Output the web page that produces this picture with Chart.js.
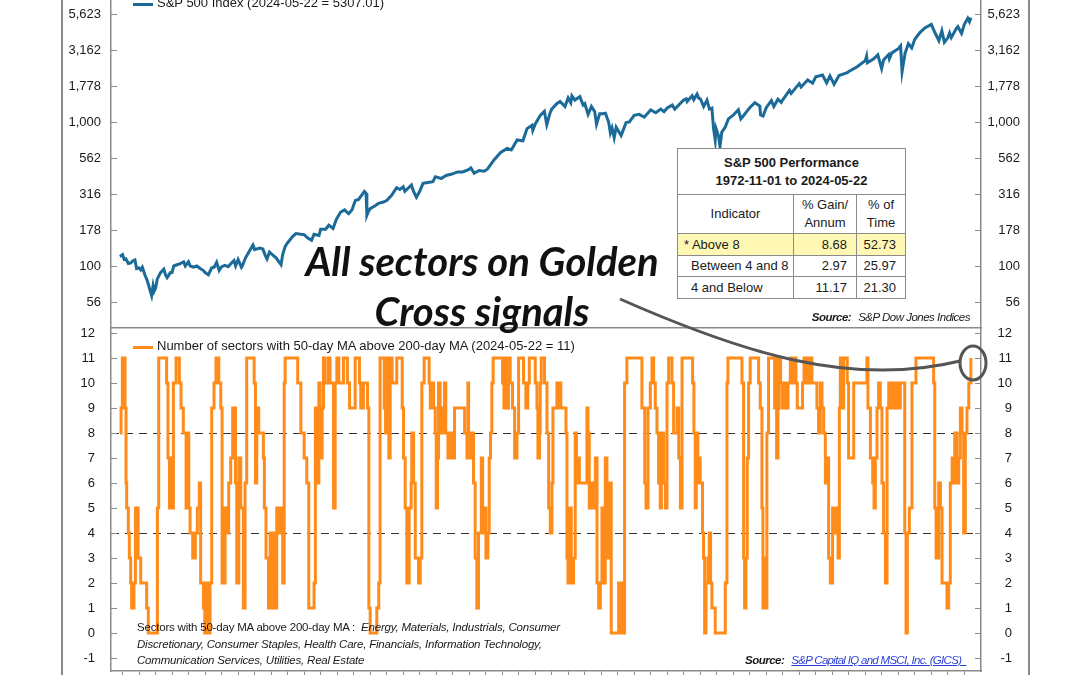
<!DOCTYPE html>
<html>
<head>
<meta charset="utf-8">
<script src="https://cdn.jsdelivr.net/npm/chart.js@4.4.1/dist/chart.umd.min.js"></script>
<style>
  body { margin: 0; background: #fff; }
  #wrap { position: relative; width: 1080px; height: 675px; overflow: hidden;
          font-family: "Liberation Sans", Arial, sans-serif; color: #1a1a1a; }
  canvas { position: absolute; left: 0; }
  #top { top: 0; }
  #bot { top: 328px; }
  .frame { position: absolute; top: 0; width: 1.5px; height: 675px; background: #8a8a8a; }
  .legend { position: absolute; font-size: 13px; white-space: nowrap; }
  .legend i { position: absolute; left: -24px; width: 20px; height: 3px; }
  #perf { position: absolute; left: 677px; top: 148px; width: 228px; border-collapse: collapse;
          table-layout: fixed; font-size: 13px; background: #fff; }
  #perf td { border: 1px solid #8a8a8a; padding: 0 6px; line-height: 18px; white-space: nowrap; overflow: hidden; }
  #perf .ttl { text-align: center; font-weight: bold; height: 45px; }
  #perf .hd td { text-align: center; height: 38px; }
  #perf .num { text-align: right; padding-right: 9px; }
  #perf .hi td { background: #fff8b4; }
  .src { position: absolute; font-size: 11.5px; font-style: italic; white-space: nowrap; letter-spacing: -0.5px; }
  .src b { margin-right: 7px; }
  #note { position: absolute; left: 137px; top: 619px; width: 440px; font-size: 11.5px;
          line-height: 16.5px; letter-spacing: -0.2px; }
  #callout { position: absolute; left: 232px; top: 236px; width: 500px; text-align: center;
             font-family: Lato, "Open Sans", sans-serif; font-weight: 700; font-style: italic;
             font-size: 40px; line-height: 50px; color: #111; }
  svg { position: absolute; left: 0; top: 0; }
</style>
</head>
<body>
<div id="wrap">
  <canvas id="top" width="1080" height="329"></canvas>
  <canvas id="bot" width="1080" height="347"></canvas>
  <div class="frame" style="left:61px"></div>
  <div class="frame" style="left:1028px"></div>

  <div class="legend" style="left:157px; top:-5px"><i style="top:8px; background:#1b6a98"></i>S&amp;P 500 Index (2024-05-22 = 5307.01)</div>
  <div class="legend" style="left:157px; top:338px"><i style="top:8px; background:#ff8c1a"></i>Number of sectors with 50-day MA above 200-day MA (2024-05-22 = 11)</div>

  <table id="perf">
    <colgroup><col style="width:116px"><col style="width:63px"><col style="width:49px"></colgroup>
    <tr><td class="ttl" colspan="3">S&amp;P 500 Performance<br>1972-11-01 to 2024-05-22</td></tr>
    <tr class="hd"><td>Indicator</td><td>% Gain/<br>Annum</td><td>% of<br>Time</td></tr>
    <tr class="hi" style="height:22px"><td style="padding-left:6px">* Above 8</td><td class="num">8.68</td><td class="num">52.73</td></tr>
    <tr style="height:21px"><td style="padding-left:13px">Between 4 and 8</td><td class="num">2.97</td><td class="num">25.97</td></tr>
    <tr style="height:22px"><td style="padding-left:13px">4 and Below</td><td class="num">11.17</td><td class="num">21.30</td></tr>
  </table>
  <div class="src" style="right:110px; top:311px"><b>Source:</b>S&amp;P Dow Jones Indices</div>

  <div id="callout">All sectors on Golden<br>Cross signals</div>

  <svg width="1080" height="675">
    <path d="M620,299 C740,352 850,388 960,361" fill="none" stroke="#555" stroke-width="3"/>
    <ellipse cx="973" cy="363" rx="13" ry="17" fill="none" stroke="#555" stroke-width="3"/>
  </svg>

  <div id="note">Sectors with 50-day MA above 200-day MA :&nbsp; <i>Energy, Materials, Industrials, Consumer Discretionary, Consumer Staples, Health Care, Financials, Information Technology, Communication Services, Utilities, Real Estate</i></div>
  <div class="src" style="left:745px; top:654px"><b>Source:</b><span style="color:#2b3fd6; text-decoration:underline; letter-spacing:-0.7px">S&amp;P Capital IQ and MSCI, Inc. (GICS)&nbsp;&nbsp;</span></div>
</div>

<script>
// ── Data ──────────────────────────────────────────────────────────────────

// S&P 500 index level, by decimal year
const spxYears = [
  1972.83, 1972.92, 1973.0, 1973.1, 1973.2, 1973.35, 1973.5, 1973.6, 1973.75, 1973.85,
  1974.0, 1974.1, 1974.2, 1974.35, 1974.5, 1974.6, 1974.76, 1974.85, 1974.92, 1975.0,
  1975.1, 1975.3, 1975.5, 1975.6, 1975.7, 1975.9, 1976.0, 1976.1, 1976.3, 1976.5,
  1976.7, 1976.8, 1976.99, 1977.1, 1977.3, 1977.5, 1977.7, 1977.9, 1978.0, 1978.2,
  1978.4, 1978.55, 1978.7, 1978.85, 1979.0, 1979.2, 1979.4, 1979.6, 1979.75, 1979.85,
  1980.0, 1980.2, 1980.25, 1980.45, 1980.65, 1980.9, 1981.0, 1981.3, 1981.5, 1981.65,
  1981.75, 1981.9, 1982.0, 1982.3, 1982.6, 1982.7, 1982.85, 1983.0, 1983.3, 1983.5,
  1983.8, 1984.0, 1984.2, 1984.45, 1984.6, 1984.9, 1985.0, 1985.3, 1985.5, 1985.75,
  1985.95, 1986.2, 1986.45, 1986.6, 1986.7, 1986.9, 1987.1, 1987.3, 1987.65, 1987.75,
  1987.8, 1987.9, 1988.0, 1988.3, 1988.5, 1988.8, 1989.0, 1989.3, 1989.6, 1989.8,
  1990.0, 1990.1, 1990.5, 1990.6, 1990.8, 1991.0, 1991.2, 1991.5, 1991.8, 1991.95,
  1992.3, 1992.6, 1992.95, 1993.3, 1993.6, 1993.95, 1994.1, 1994.3, 1994.6, 1994.9,
  1995.1, 1995.5, 1995.9, 1996.3, 1996.55, 1996.9, 1997.25, 1997.5, 1997.8, 1997.85,
  1998.0, 1998.3, 1998.55, 1998.7, 1998.9, 1999.0, 1999.3, 1999.5, 1999.8, 1999.99,
  2000.15, 2000.22, 2000.4, 2000.7, 2000.9, 2001.0, 2001.2, 2001.4, 2001.6, 2001.71,
  2001.9, 2002.1, 2002.25, 2002.45, 2002.55, 2002.65, 2002.78, 2002.9, 2003.0, 2003.2,
  2003.5, 2003.7, 2003.99, 2004.3, 2004.6, 2004.99, 2005.3, 2005.6, 2005.8, 2005.99,
  2006.3, 2006.45, 2006.99, 2007.15, 2007.2, 2007.5, 2007.6, 2007.8, 2007.9, 2008.0,
  2008.2, 2008.4, 2008.55, 2008.7, 2008.8, 2008.9, 2008.95, 2009.1, 2009.19, 2009.3,
  2009.5, 2009.7, 2009.99, 2010.3, 2010.45, 2010.6, 2010.99, 2011.3, 2011.6, 2011.65,
  2011.8, 2011.99, 2012.3, 2012.45, 2012.7, 2012.9, 2012.99, 2013.4, 2013.5, 2013.99,
  2014.1, 2014.5, 2014.8, 2014.99, 2015.4, 2015.65, 2015.85, 2016.1, 2016.4, 2016.9,
  2016.99, 2017.5, 2017.99, 2018.07, 2018.12, 2018.5, 2018.75, 2018.98, 2019.1, 2019.4,
  2019.45, 2019.6, 2019.99, 2020.13, 2020.22, 2020.4, 2020.6, 2020.8, 2020.99, 2021.3,
  2021.6, 2021.99, 2022.2, 2022.45, 2022.63, 2022.78, 2022.99, 2023.1, 2023.2, 2023.5,
  2023.6, 2023.82, 2023.99, 2024.2, 2024.3, 2024.39,
];
const spxValues = [
  116.7, 118, 119.9, 111, 112, 104, 105, 108, 110, 96,
  97, 94, 98, 87, 79, 72, 62.3, 73, 67, 70,
  81, 90, 95, 87, 83, 90, 90, 100, 102, 104,
  107, 100, 107, 100, 98, 100, 96, 93, 90, 87,
  97, 98, 106, 93, 99, 101, 99, 105, 109, 100,
  111, 98, 100, 114, 125, 140, 130, 133, 131, 118,
  112, 125, 122, 114, 102, 120, 137, 145, 160, 168,
  166, 165, 157, 151, 166, 163, 180, 180, 192, 182,
  211, 236, 245, 236, 231, 246, 285, 290, 330, 320,
  225, 240, 250, 262, 272, 278, 285, 310, 350, 340,
  355, 330, 365, 335, 300, 330, 375, 380, 385, 417,
  405, 425, 435, 450, 450, 466, 480, 440, 460, 455,
  470, 545, 615, 655, 640, 750, 740, 900, 950, 875,
  970, 1110, 1185, 960, 1160, 1230, 1340, 1390, 1280, 1470,
  1360, 1520, 1420, 1500, 1310, 1340, 1130, 1280, 1180, 965,
  1140, 1140, 1150, 990, 840, 910, 777, 920, 880, 805,
  990, 1000, 1112, 1130, 1080, 1212, 1160, 1230, 1180, 1250,
  1310, 1230, 1420, 1450, 1390, 1520, 1430, 1560, 1460, 1450,
  1280, 1420, 1230, 1250, 900, 750, 900, 800, 677, 850,
  920, 1050, 1115, 1215, 1050, 1100, 1258, 1360, 1290, 1120,
  1100, 1258, 1410, 1280, 1440, 1370, 1426, 1660, 1580, 1848,
  1750, 1960, 1860, 2058, 2120, 1870, 2090, 1830, 2100, 2200,
  2240, 2420, 2670, 2870, 2580, 2750, 2930, 2350, 2700, 2940,
  2750, 3020, 3230, 3380, 2240, 3000, 3500, 3270, 3756, 4180,
  4500, 4766, 4200, 3670, 4300, 3580, 3840, 4150, 3850, 4450,
  4590, 4120, 4770, 5250, 4970, 5307,
];

// Number of sectors with 50-day MA above 200-day MA (value holds from that year on)
const secYears = [
  1972.85, 1972.91, 1972.99, 1973.05, 1973.11, 1973.15, 1973.21, 1973.25, 1973.35, 1973.41,
  1973.49, 1973.55, 1973.69, 1973.78, 1973.94, 1974.10, 1974.46, 1974.56, 1975.11, 1975.19,
  1975.67, 1975.75, 1975.84, 1975.92, 1976.00, 1976.08, 1976.24, 1976.44, 1976.54, 1976.68,
  1976.85, 1976.93, 1977.01, 1977.09, 1977.25, 1977.41, 1977.53, 1977.65, 1977.73, 1977.90,
  1977.98, 1978.06, 1978.14, 1978.30, 1978.40, 1978.54, 1978.66, 1978.83, 1978.95, 1979.03,
  1979.21, 1979.35, 1979.43, 1979.55, 1979.67, 1979.84, 1979.92, 1980.04, 1980.16, 1980.32,
  1980.42, 1980.52, 1980.97, 1981.05, 1981.13, 1981.25, 1981.53, 1981.59, 1981.69, 1981.84,
  1981.94, 1982.04, 1982.14, 1982.24, 1982.34, 1982.48, 1982.60, 1982.70, 1982.79, 1982.85,
  1983.61, 1983.80, 1984.00, 1984.16, 1984.28, 1984.60, 1984.68, 1984.81, 1984.89, 1984.97,
  1985.09, 1985.17, 1985.27, 1985.47, 1985.57, 1985.78, 1985.88, 1985.98, 1986.10, 1986.38,
  1986.62, 1986.75, 1987.09, 1987.35, 1987.43, 1987.59, 1987.84, 1987.92, 1988.00, 1988.40,
  1988.52, 1988.60, 1988.85, 1988.93, 1989.01, 1989.13, 1989.21, 1989.33, 1989.61, 1989.94,
  1990.02, 1990.12, 1990.22, 1990.36, 1990.48, 1990.52, 1990.63, 1990.73, 1990.93, 1991.03,
  1991.13, 1991.27, 1991.57, 1991.64, 1991.78, 1991.84, 1991.94, 1992.00, 1992.08, 1992.14,
  1992.24, 1992.34, 1992.44, 1992.50, 1992.58, 1992.71, 1992.83, 1992.95, 1993.11, 1993.72,
  1993.86, 1993.92, 1993.96, 1994.06, 1994.16, 1994.26, 1994.36, 1994.46, 1994.56, 1994.73,
  1994.81, 1994.93, 1995.01, 1995.13, 1995.21, 1995.29, 1995.37, 1995.45, 1996.02, 1996.10,
  1996.18, 1996.28, 1996.38, 1996.48, 1996.62, 1996.75, 1996.89, 1996.99, 1997.29, 1997.43,
  1997.55, 1997.64, 1998.00, 1998.10, 1998.16, 1998.26, 1998.30, 1998.36, 1998.56, 1998.71,
  1998.81, 1998.91, 1999.01, 1999.07, 1999.31, 1999.41, 1999.49, 1999.55, 1999.86, 1999.92,
  1999.98, 2000.06, 2000.18, 2000.32, 2000.42, 2000.50, 2000.59, 2000.67, 2001.13, 2001.19,
  2001.27, 2001.39, 2001.53, 2001.64, 2001.74, 2001.84, 2001.94, 2002.04, 2002.14, 2002.24,
  2002.34, 2002.48, 2002.60, 2003.05, 2003.15, 2003.25, 2003.31, 2003.41, 2003.55, 2004.46,
  2004.63, 2004.71, 2004.83, 2004.97, 2005.07, 2005.17, 2005.27, 2005.37, 2005.47, 2005.57,
  2005.64, 2005.78, 2005.88, 2005.98, 2006.08, 2006.28, 2006.38, 2006.59, 2006.69, 2006.79,
  2006.89, 2007.53, 2007.61, 2007.69, 2007.75, 2007.85, 2007.93, 2007.99, 2008.13, 2008.19,
  2008.26, 2008.34, 2008.46, 2008.54, 2008.62, 2008.70, 2008.90, 2009.51, 2009.61, 2009.67,
  2010.52, 2010.62, 2010.68, 2010.76, 2010.84, 2010.92, 2011.02, 2011.53, 2011.63, 2011.73,
  2011.79, 2011.89, 2011.97, 2012.03, 2012.13, 2012.50, 2012.58, 2012.62, 2012.70, 2012.78,
  2012.86, 2012.98, 2013.10, 2013.18, 2013.31, 2013.45, 2013.55, 2013.67, 2013.79, 2013.87,
  2014.19, 2014.28, 2014.36, 2014.48, 2014.56, 2014.66, 2014.76, 2015.06, 2015.16, 2015.27,
  2015.37, 2015.47, 2015.57, 2015.67, 2015.77, 2015.87, 2016.01, 2016.13, 2016.22, 2016.34,
  2016.42, 2016.48, 2016.58, 2016.68, 2016.90, 2016.98, 2017.29, 2018.09, 2018.15, 2018.30,
  2018.44, 2018.52, 2018.60, 2018.70, 2018.80, 2018.90, 2019.00, 2019.10, 2019.21, 2019.31,
  2019.41, 2019.51, 2019.65, 2019.77, 2019.89, 2020.01, 2020.11, 2020.38, 2020.46, 2020.54,
  2020.66, 2020.82, 2021.06, 2022.13, 2022.20, 2022.28, 2022.44, 2022.54, 2022.64, 2022.94,
  2023.04, 2023.14, 2023.25, 2023.35, 2023.41, 2023.55, 2023.65, 2023.75, 2023.85, 2023.95,
  2024.05, 2024.15, 2024.26, 2024.39,
];
const secCounts = [
  8, 9, 11, 10, 11, 9, 6, 5, 4, 3,
  2, 1, 2, 5, 3, 2, 1, 0, 5, 11,
  10, 7, 5, 7, 5, 10, 11, 10, 9, 8,
  5, 8, 5, 4, 3, 4, 5, 6, 2, 1,
  0, 2, 0, 2, 9, 10, 11, 10, 9, 2,
  5, 4, 6, 7, 9, 6, 2, 7, 5, 1,
  6, 11, 10, 6, 9, 8, 7, 5, 3, 1,
  4, 1, 4, 1, 5, 4, 5, 2, 10, 11,
  10, 8, 7, 6, 1, 2, 9, 6, 10, 7,
  9, 11, 10, 11, 10, 5, 10, 11, 10, 11,
  10, 9, 11, 10, 9, 10, 9, 1, 0, 1,
  2, 11, 9, 8, 11, 7, 11, 10, 11, 9,
  7, 5, 2, 5, 6, 8, 6, 3, 2, 3,
  10, 11, 10, 9, 10, 9, 8, 5, 7, 10,
  8, 9, 8, 10, 8, 7, 8, 7, 9, 8,
  7, 10, 8, 7, 8, 6, 3, 1, 4, 7,
  4, 5, 3, 4, 7, 8, 10, 11, 10, 9,
  11, 9, 11, 10, 9, 7, 8, 11, 10, 9,
  10, 11, 10, 9, 7, 8, 10, 11, 10, 8,
  5, 4, 6, 9, 10, 9, 10, 9, 8, 3,
  2, 5, 2, 3, 8, 6, 7, 6, 9, 8,
  5, 6, 5, 7, 2, 1, 2, 5, 2, 7,
  3, 6, 0, 2, 0, 2, 0, 10, 11, 9,
  6, 5, 9, 10, 11, 10, 9, 8, 6, 5,
  8, 6, 5, 10, 11, 10, 8, 9, 7, 5,
  11, 10, 8, 5, 8, 6, 7, 6, 4, 3,
  0, 2, 3, 4, 2, 1, 0, 2, 10, 11,
  10, 3, 1, 3, 7, 10, 11, 10, 9, 5,
  1, 3, 1, 8, 11, 9, 11, 7, 9, 11,
  10, 9, 10, 9, 10, 11, 10, 11, 10, 9,
  10, 11, 10, 11, 10, 11, 10, 9, 8, 10,
  9, 8, 6, 7, 3, 2, 5, 4, 5, 3,
  9, 11, 9, 11, 10, 7, 10, 11, 9, 7,
  6, 5, 7, 9, 10, 9, 6, 4, 2, 9,
  10, 9, 10, 9, 10, 9, 10, 4, 0, 4,
  5, 10, 11, 10, 5, 3, 6, 5, 2, 1,
  2, 6, 7, 6, 8, 6, 7, 9, 8, 4,
  8, 9, 10, 11,
];

// Axis ticks
const spxTickValues = [56.23, 100, 177.83, 316.23, 562.34, 1000, 1778.28, 3162.28, 5623.41];
const spxTickLabels = ['56', '100', '178', '316', '562', '1,000', '1,778', '3,162', '5,623'];
const secTickValues = [-1, 0, 1, 2, 3, 4, 5, 6, 7, 8, 9, 10, 11, 12];
const secThresholds = [4, 8];

// ── Style ─────────────────────────────────────────────────────────────────

const BLUE = '#1b6a98';
const ORANGE = '#ff8c1a';
const AXIS = '#8a8a8a';
const TXT = '#1a1a1a';
const FONT = { family: '"Liberation Sans", Arial, sans-serif', size: 13 };

const X_MIN = 1972.3, X_MAX = 2025.0;
const yearTicks = Array.from({ length: 2024 - 1973 + 1 }, (_, i) => ({ value: 1973 + i }));

// small tick marks pointing into the plot, like the original
const innerTicks = {
  id: 'innerTicks',
  afterDraw(chart) {
    const { ctx, chartArea: a } = chart;
    ctx.save();
    ctx.strokeStyle = AXIS;
    ctx.lineWidth = 1;
    ['yL', 'yR'].forEach(id => {
      const s = chart.scales[id];
      s.ticks.forEach(t => {
        const y = Math.round(s.getPixelForValue(t.value)) + 0.5;
        const x0 = id === 'yL' ? a.left : a.right - 6;
        ctx.beginPath(); ctx.moveTo(x0, y); ctx.lineTo(x0 + 6, y); ctx.stroke();
      });
    });
    ctx.restore();
  },
};

const dashedLevels = {
  id: 'dashedLevels',
  beforeDatasetsDraw(chart) {
    const { ctx, chartArea: a } = chart;
    const s = chart.scales.yL;
    ctx.save();
    ctx.strokeStyle = '#333';
    ctx.lineWidth = 1;
    ctx.setLineDash([8, 6]);
    secThresholds.forEach(v => {
      const y = Math.round(s.getPixelForValue(v)) + 0.5;
      ctx.beginPath(); ctx.moveTo(a.left, y); ctx.lineTo(a.right, y); ctx.stroke();
    });
    ctx.restore();
  },
};

// fixed axis size, and no extra padding for the labels at the ends
const fixSize = (w, h) => s => {
  if (w != null) s.width = w;
  if (h != null) s.height = h;
  s.paddingTop = s.paddingBottom = s.paddingLeft = s.paddingRight = 0;
};

function yAxis(pos, extra) {
  return {
    position: pos,
    grid: { display: false, drawTicks: false },
    border: { color: AXIS, width: 1.5 },
    ...extra,
  };
}

// ── Top: S&P 500 (log) ────────────────────────────────────────────────────

const TOP_MIN = 37.1, TOP_MAX = 7034;
const topTicks = {
  color: TXT, font: FONT,
  callback: (v, i) => spxTickLabels[i],
};

new Chart(document.getElementById('top'), {
  type: 'line',
  data: {
    datasets: [{
      data: spxYears.map((x, i) => ({ x, y: spxValues[i] })),
      borderColor: BLUE,
      borderWidth: 3,
      pointRadius: 0,
      tension: 0,
      yAxisID: 'yL',
    }],
  },
  options: {
    responsive: false,
    animation: false,
    devicePixelRatio: 1,
    layout: { padding: { left: 0, right: 60, top: 0, bottom: 0 } },
    plugins: { legend: { display: false }, tooltip: { enabled: false } },
    scales: {
      x: {
        type: 'linear', min: X_MIN, max: X_MAX,
        grid: { display: false },
        ticks: { display: false },
        border: { color: AXIS, width: 1.5 },
        afterFit: fixSize(null, 1),
      },
      yL: yAxis('left', {
        type: 'logarithmic', min: TOP_MIN, max: TOP_MAX,
        afterBuildTicks: s => { s.ticks = spxTickValues.map(value => ({ value })); },
        afterFit: fixSize(111, null),
        ticks: { ...topTicks, padding: 10 },
      }),
      yR: yAxis('right', {
        type: 'logarithmic', min: TOP_MIN, max: TOP_MAX,
        afterBuildTicks: s => { s.ticks = spxTickValues.map(value => ({ value })); },
        afterFit: fixSize(39, null),
        ticks: { ...topTicks, crossAlign: 'far' },
      }),
    },
  },
  plugins: [innerTicks],
});

// ── Bottom: sector count (stepped) ────────────────────────────────────────

const BOT_MIN = -1.52, BOT_MAX = 12.2;
const botTicks = { color: TXT, font: FONT, stepSize: 1 };

new Chart(document.getElementById('bot'), {
  type: 'line',
  data: {
    datasets: [{
      data: secYears.map((x, i) => ({ x, y: secCounts[i] })),
      borderColor: ORANGE,
      borderWidth: 3,
      pointRadius: 0,
      stepped: true,
      yAxisID: 'yL',
    }],
  },
  options: {
    responsive: false,
    animation: false,
    devicePixelRatio: 1,
    layout: { padding: { left: 0, right: 68, top: 0, bottom: 0 } },
    plugins: { legend: { display: false }, tooltip: { enabled: false } },
    scales: {
      x: {
        type: 'linear', min: X_MIN, max: X_MAX,
        afterBuildTicks: s => { s.ticks = yearTicks; },
        grid: { display: true, drawOnChartArea: false, drawTicks: true, tickLength: 4, color: AXIS },
        ticks: { display: false },
        border: { color: AXIS, width: 1.5 },
        afterFit: fixSize(null, 4),
      },
      yL: yAxis('left', {
        type: 'linear', min: BOT_MIN, max: BOT_MAX,
        afterBuildTicks: s => { s.ticks = secTickValues.map(value => ({ value })); },
        afterFit: fixSize(111, null),
        ticks: { ...botTicks, padding: 16 },
      }),
      yR: yAxis('right', {
        type: 'linear', min: BOT_MIN, max: BOT_MAX,
        afterBuildTicks: s => { s.ticks = secTickValues.map(value => ({ value })); },
        afterFit: fixSize(31, null),
        ticks: { ...botTicks, crossAlign: 'far' },
      }),
    },
  },
  plugins: [innerTicks, dashedLevels],
});
</script>
</body>
</html>
